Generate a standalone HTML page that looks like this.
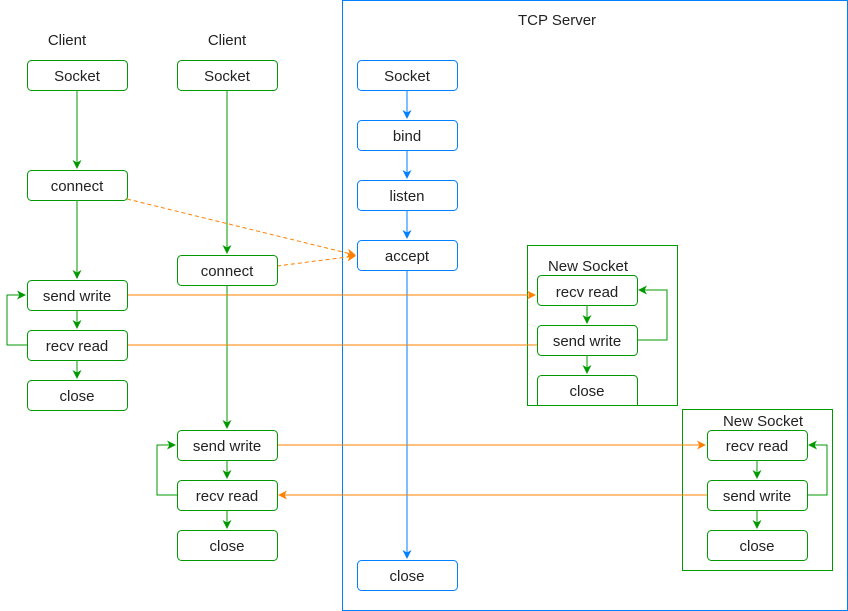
<!DOCTYPE html>
<html><head><style>body{margin:0;background:#fff}svg{display:block}text{font-family:"Liberation Sans",sans-serif;font-size:15px;fill:#222;text-anchor:middle}</style></head><body>
<svg width="848" height="611" viewBox="0 0 848 611">
<defs>
<marker id="g" markerWidth="9" markerHeight="9" refX="8" refY="4.5" orient="auto" markerUnits="userSpaceOnUse"><path d="M0,0 L9,4.5 L0,9 L2.5,4.5z" fill="#009900"/></marker>
<marker id="b" markerWidth="9" markerHeight="9" refX="8" refY="4.5" orient="auto" markerUnits="userSpaceOnUse"><path d="M0,0 L9,4.5 L0,9 L2.5,4.5z" fill="#007FFF"/></marker>
<marker id="o" markerWidth="9" markerHeight="9" refX="8" refY="4.5" orient="auto" markerUnits="userSpaceOnUse"><path d="M0,0 L9,4.5 L0,9 L2.5,4.5z" fill="#FF8000"/></marker>
</defs>
<rect x="342.5" y="0.5" width="505" height="610" fill="none" stroke="#007FFF"/>
<text x="557" y="25">TCP Server</text>
<text x="67" y="45">Client</text>
<text x="227" y="45">Client</text>
<rect x="527.5" y="245.5" width="150" height="160" fill="none" stroke="#009900"/>
<text x="588" y="271">New Socket</text>
<rect x="682.5" y="409.5" width="150" height="161" fill="none" stroke="#009900"/>
<text x="763" y="426">New Socket</text>
<g fill="none" stroke-width="1">
<g stroke="#009900">
<path d="M77,90V168" marker-end="url(#g)"/>
<path d="M77,200V278" marker-end="url(#g)" stroke="#7fcc7f" stroke-width="2"/>
<path d="M77,310V328" marker-end="url(#g)"/>
<path d="M77,360V378" marker-end="url(#g)"/>
<path d="M27,345H7V295H25" marker-end="url(#g)"/>
<path d="M227,90V253" marker-end="url(#g)"/>
<path d="M227,285V428" marker-end="url(#g)"/>
<path d="M227,460V478" marker-end="url(#g)"/>
<path d="M227,510V528" marker-end="url(#g)"/>
<path d="M177,495H157V445H175" marker-end="url(#g)"/>
<path d="M587,305V323" marker-end="url(#g)"/>
<path d="M587,355V373" marker-end="url(#g)"/>
<path d="M637,340H667V290H639" marker-end="url(#g)"/>
<path d="M757,460V478" marker-end="url(#g)"/>
<path d="M757,510V528" marker-end="url(#g)"/>
<path d="M807,495H827V445H809" marker-end="url(#g)"/>
</g>
<g stroke="#007FFF">
<path d="M407,90V118" marker-end="url(#b)"/>
<path d="M407,150V178" marker-end="url(#b)"/>
<path d="M407,210V238" marker-end="url(#b)"/>
<path d="M407,270V558" marker-end="url(#b)"/>
</g>
<g stroke="#FF8000">
<path d="M127,199L355,255" stroke-dasharray="4,3" marker-end="url(#o)"/>
<path d="M277,266L355,256" stroke-dasharray="4,3" marker-end="url(#o)"/>
<path d="M127,295H535" marker-end="url(#o)"/>
<path d="M127,345H537"/>
<path d="M277,445H705" marker-end="url(#o)"/>
<path d="M707,495H279" marker-end="url(#o)"/>
</g>
</g>
<g fill="#fff" stroke-width="1">
<g stroke="#009900">
<rect x="27.5" y="60.5" width="100" height="30" rx="4"/>
<rect x="27.5" y="170.5" width="100" height="30" rx="4"/>
<rect x="27.5" y="280.5" width="100" height="30" rx="4"/>
<rect x="27.5" y="330.5" width="100" height="30" rx="4"/>
<rect x="27.5" y="380.5" width="100" height="30" rx="4"/>
<rect x="177.5" y="60.5" width="100" height="30" rx="4"/>
<rect x="177.5" y="255.5" width="100" height="30" rx="4"/>
<rect x="177.5" y="430.5" width="100" height="30" rx="4"/>
<rect x="177.5" y="480.5" width="100" height="30" rx="4"/>
<rect x="177.5" y="530.5" width="100" height="30" rx="4"/>
<rect x="537.5" y="275.5" width="100" height="30" rx="4"/>
<rect x="537.5" y="325.5" width="100" height="30" rx="4"/>
<path d="M537.5,405V379.5a4,4 0 0 1 4,-4H633.5a4,4 0 0 1 4,4V405"/>
<rect x="707.5" y="430.5" width="100" height="30" rx="4"/>
<rect x="707.5" y="480.5" width="100" height="30" rx="4"/>
<rect x="707.5" y="530.5" width="100" height="30" rx="4"/>
</g>
<g stroke="#007FFF">
<rect x="357.5" y="60.5" width="100" height="30" rx="4"/>
<rect x="357.5" y="120.5" width="100" height="30" rx="4"/>
<rect x="357.5" y="180.5" width="100" height="30" rx="4"/>
<rect x="357.5" y="240.5" width="100" height="30" rx="4"/>
<rect x="357.5" y="560.5" width="100" height="30" rx="4"/>
</g>
</g>
<text x="77" y="81">Socket</text><text x="77" y="191">connect</text><text x="77" y="301">send write</text><text x="77" y="351">recv read</text><text x="77" y="401">close</text>
<text x="227" y="81">Socket</text><text x="227" y="276">connect</text><text x="227" y="451">send write</text><text x="227" y="501">recv read</text><text x="227" y="551">close</text>
<text x="407" y="81">Socket</text><text x="407" y="141">bind</text><text x="407" y="201">listen</text><text x="407" y="261">accept</text><text x="407" y="581">close</text>
<text x="587" y="297">recv read</text><text x="587" y="346">send write</text><text x="587" y="396">close</text>
<text x="757" y="451">recv read</text><text x="757" y="501">send write</text><text x="757" y="551">close</text>
</svg>
</body></html>
